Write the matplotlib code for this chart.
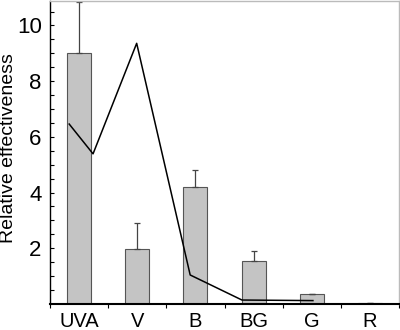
import matplotlib.pyplot as plt
import numpy as np

plt.rcParams['font.family'] = ['Liberation Sans', 'DejaVu Sans']

bands = ["UVA", "V", "B", "BG", "G", "R"]
effect = [9.0, 1.96, 4.19, 1.54, 0.36, 0.03]
err_up = [1.83, 0.96, 0.62, 0.37, 0.0, 0.0]

# spectrum curve, positions in category units
curve_x = [-0.17, 0.24, 0.99, 1.91, 2.80, 4.02]
curve_y = [6.46, 5.39, 9.36, 1.04, 0.14, 0.12]

fig = plt.figure(figsize=(4, 3.3), dpi=100)
ax = fig.add_axes([0.125, 0.079, 0.8725, 0.918])

x = np.arange(len(bands))
ax.bar(x, effect, width=0.41, color="#c4c4c4", edgecolor="#555555", linewidth=0.8)
ax.errorbar(x, effect, yerr=[np.zeros(len(x)), err_up], fmt="none",
            ecolor="#444444", elinewidth=0.9, capsize=2.5, capthick=0.9)
ax.plot(curve_x, curve_y, color="black", linewidth=1.1)

ax.set_xlim(-0.5, 5.5)
ax.set_ylim(0, 10.88)

ax.set_xticks(x)
ax.set_xticklabels(bands, fontsize=14.5)
ax.set_xticks(np.arange(-0.5, 6.0, 1.0), minor=True)
ax.tick_params(axis="x", which="major", length=0, pad=6)
ax.tick_params(axis="x", which="minor", length=3, direction="out", width=0.8)

ax.set_yticks([2, 4, 6, 8, 10])
ax.set_yticklabels(["2", "4", "6", "8", "10"], fontsize=16)
ax.set_yticks(np.arange(0.5, 10.6, 0.5), minor=True)
ax.tick_params(axis="y", which="both", direction="in", length=3, width=0.8, pad=6)

fig.text(9 / 400, 1 - 148 / 330, "Relative effectiveness", fontsize=14,
         rotation=90, ha="center", va="center")

ax.spines["left"].set_linewidth(1.0)
ax.spines["bottom"].set_linewidth(1.5)
for s in ["top", "right"]:
    ax.spines[s].set_color("#bbbbbb")
    ax.spines[s].set_linewidth(1.0)

fig.savefig("out.png", dpi=100)
